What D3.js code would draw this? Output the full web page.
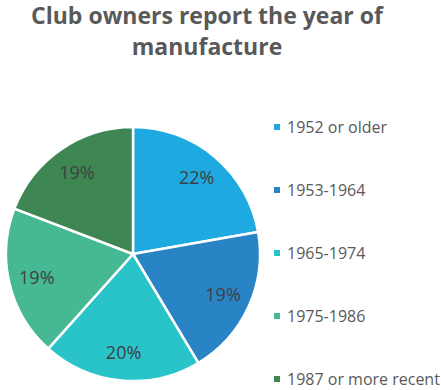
<!DOCTYPE html>
<html>
<head>
<meta charset="utf-8">
<script src="https://cdn.jsdelivr.net/npm/d3@7"></script>
<style>
  html, body { margin: 0; padding: 0; background: #fff; }
  svg { display: block; }
</style>
</head>
<body>
<svg id="chart" width="441" height="390"></svg>
<script>
// Year of manufacture reported by club owners (share of responses, %)
const categories = ["1952 or older", "1953-1964", "1965-1974", "1975-1986", "1987 or more recent"];
const shares = [22, 19, 20, 19, 19];
const colors = ["#1fa9e1", "#2984c6", "#29c3ca", "#46b994", "#3e8753"];
const titleLines = ["Club owners report the year of", "manufacture"];

const svg = d3.select("#chart");
const cx = 133, cy = 254, radius = 127;
const font = "'Open Sans', 'Liberation Sans', sans-serif";

// Title
svg.append("text")
  .attr("x", 207).attr("y", 24)
  .attr("text-anchor", "middle")
  .attr("font-family", font).attr("font-weight", "bold")
  .attr("font-size", 23).attr("fill", "#595959")
  .selectAll("tspan").data(titleLines).join("tspan")
  .attr("x", 207).attr("dy", (d, i) => i === 0 ? 0 : 31)
  .text(d => d);

// Pie
const data = categories.map((c, i) => ({ category: c, value: shares[i] }));
const pie = d3.pie().value(d => d.value).sort(null);
const arc = d3.arc().innerRadius(0).outerRadius(radius);
const labelArc = d3.arc().innerRadius(99).outerRadius(99);
const color = d3.scaleOrdinal().domain(categories).range(colors);

const g = svg.append("g").attr("transform", `translate(${cx},${cy})`);
const arcs = pie(data);

g.selectAll("path").data(arcs).join("path")
  .attr("d", arc)
  .attr("fill", d => color(d.data.category))
  .attr("stroke", "#fff")
  .attr("stroke-width", 2.5)
  .attr("stroke-linejoin", "round");

g.selectAll("text.val").data(arcs).join("text")
  .attr("class", "val")
  .attr("transform", d => `translate(${labelArc.centroid(d)})`)
  .attr("text-anchor", "middle")
  .attr("dy", "0.35em")
  .attr("font-family", font)
  .attr("font-size", 18)
  .attr("fill", "#404040")
  .text(d => d.data.value + "%");

// Legend
const legendY = d3.scalePoint().domain(categories).range([127, 379]);
const legend = svg.append("g");
const items = legend.selectAll("g").data(categories).join("g")
  .attr("transform", d => `translate(274,${legendY(d)})`);
items.append("rect")
  .attr("x", 0).attr("y", -3).attr("width", 6).attr("height", 6)
  .attr("fill", d => color(d));
items.append("text")
  .attr("x", 13).attr("dy", "0.35em")
  .attr("font-family", font)
  .attr("font-size", 16)
  .attr("fill", "#595959")
  .text(d => d);
</script>
</body>
</html>
